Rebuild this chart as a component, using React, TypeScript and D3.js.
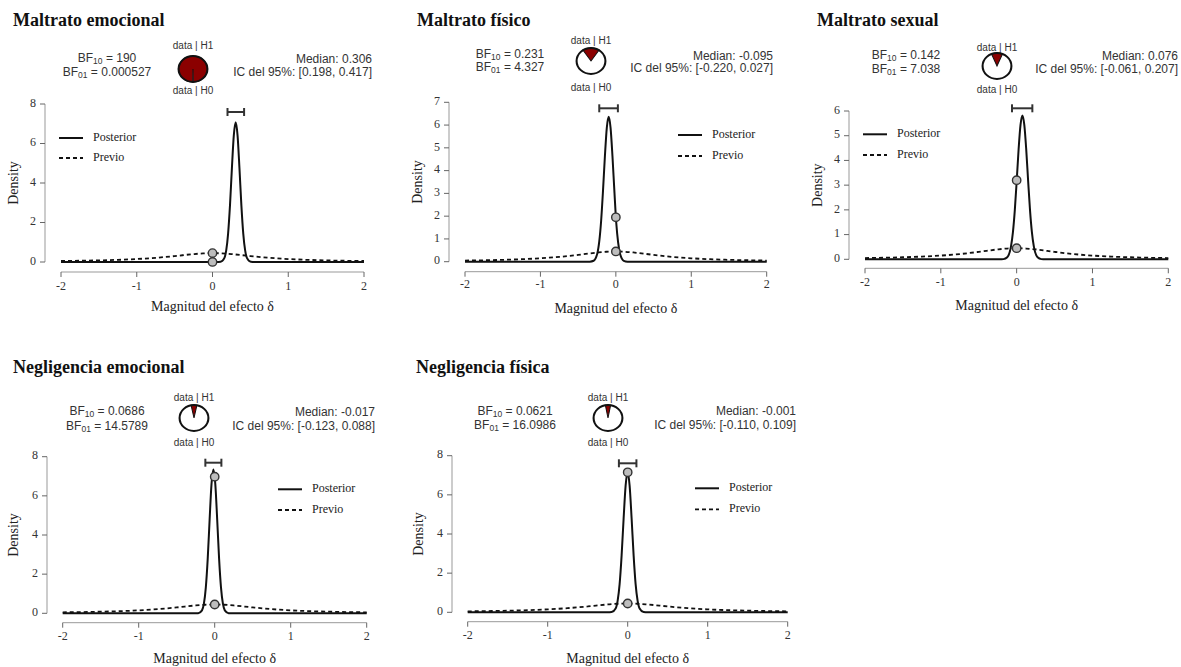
import React from "react";
import * as d3 from "d3";

// ---------- data ----------
const panelTitles = [
  "Maltrato emocional",
  "Maltrato físico",
  "Maltrato sexual",
  "Negligencia emocional",
  "Negligencia física",
];
const bf10Values = [190, 0.231, 0.142, 0.0686, 0.0621];
const bf10Labels = ["190", "0.231", "0.142", "0.0686", "0.0621"];
const bf01Labels = ["0.000527", "4.327", "7.038", "14.5789", "16.0986"];
const medians = [0.306, -0.095, 0.076, -0.017, -0.001];
const ciLower = [0.198, -0.22, -0.061, -0.123, -0.11];
const ciUpper = [0.417, 0.027, 0.207, 0.088, 0.109];
const yMaxima = [8, 7, 6, 8, 8];
const yTickSteps = [2, 1, 1, 2, 2];
const xTicks = [-2, -1, 0, 1, 2];

// prior density (Cauchy-shaped)
const priorX = [-2, -1.75, -1.5, -1.25, -1, -0.75, -0.5, -0.25, -0.125, 0, 0.125, 0.25, 0.5, 0.75, 1, 1.25, 1.5, 1.75, 2];
const priorY = [0.05, 0.063, 0.082, 0.109, 0.15, 0.212, 0.3, 0.4, 0.436, 0.45, 0.436, 0.4, 0.3, 0.212, 0.15, 0.109, 0.082, 0.063, 0.05];
const priorAtZero = 0.45;
const posteriorAtZero = [0.003, 1.95, 3.2, 6.98, 7.15];

// posterior densities
const post1X = [-2, 0.056, 0.106, 0.156, 0.181, 0.206, 0.231, 0.256, 0.281, 0.306, 0.331, 0.356, 0.381, 0.406, 0.431, 0.456, 0.506, 0.556, 2];
const post1Y = [0, 0, 0.012, 0.196, 0.585, 1.44, 2.88, 4.74, 6.4, 7.07, 6.4, 4.74, 2.88, 1.44, 0.585, 0.196, 0.012, 0, 0];
const post2X = [-2, -0.395, -0.345, -0.295, -0.245, -0.22, -0.195, -0.17, -0.145, -0.12, -0.095, -0.07, -0.045, -0.02, 0.005, 0.03, 0.055, 0.105, 0.155, 0.205, 2];
const post2Y = [0, 0, 0.002, 0.041, 0.374, 0.89, 1.8, 3.13, 4.64, 5.88, 6.36, 5.88, 4.64, 3.13, 1.72, 0.85, 0.36, 0.04, 0.002, 0, 0];
const post3X = [-2, -0.224, -0.174, -0.124, -0.074, -0.049, -0.024, 0.001, 0.026, 0.051, 0.076, 0.101, 0.126, 0.151, 0.176, 0.201, 0.226, 0.276, 0.326, 0.376, 2];
const post3Y = [0, 0, 0.007, 0.081, 0.53, 1.1, 2.0, 3.19, 4.46, 5.44, 5.82, 5.44, 4.46, 3.19, 2.0, 1.1, 0.53, 0.081, 0.007, 0, 0];
const post4X = [-2, -0.267, -0.217, -0.167, -0.142, -0.117, -0.092, -0.067, -0.042, -0.017, 0.008, 0.033, 0.058, 0.083, 0.108, 0.133, 0.183, 0.233, 2];
const post4Y = [0, 0, 0.007, 0.151, 0.49, 1.31, 2.78, 4.77, 6.6, 7.35, 6.6, 4.77, 2.78, 1.31, 0.49, 0.151, 0.007, 0, 0];
const post5X = [-2, -0.251, -0.201, -0.151, -0.126, -0.101, -0.076, -0.051, -0.026, -0.001, 0.024, 0.049, 0.074, 0.099, 0.124, 0.149, 0.199, 0.249, 2];
const post5Y = [0, 0, 0.012, 0.195, 0.587, 1.44, 2.91, 4.79, 6.47, 7.15, 6.47, 4.79, 2.91, 1.44, 0.587, 0.195, 0.012, 0, 0];
const posteriorXs = [post1X, post2X, post3X, post4X, post5X];
const posteriorYs = [post1Y, post2Y, post3Y, post4Y, post5Y];

// ---------- layout (pixel positions, per panel) ----------
type Layout = {
  titleX: number; titleY: number;
  x0: number; x1: number; yTop: number; yBottom: number;
  axisY: number; yAxisX: number; tickLabelY: number; axisTitleY: number; densityX: number;
  legX: number; legY: number; legY2: number;
  ciY: number;
  bfX: number; bfY1: number; bfY2: number;
  pieX: number; pieY: number; h1Y: number; h0Y: number;
  medX: number; medY1: number; medY2: number;
};
const layouts: Layout[] = [
  { titleX: 13, titleY: 26, x0: 61, x1: 364, yTop: 104, yBottom: 262, axisY: 272, yAxisX: 45, tickLabelY: 287, axisTitleY: 308, densityX: 15,
    legX: 59, legY: 138, legY2: 158, ciY: 112, bfX: 107, bfY1: 59, bfY2: 73, pieX: 193, pieY: 69, h1Y: 46, h0Y: 91, medX: 372, medY1: 60, medY2: 73 },
  { titleX: 417, titleY: 26, x0: 465, x1: 766.7, yTop: 102.3, yBottom: 261.7, axisY: 271.7, yAxisX: 449, tickLabelY: 285.7, axisTitleY: 310, densityX: 419,
    legX: 678, legY: 135, legY2: 156, ciY: 108.3, bfX: 510, bfY1: 55, bfY2: 68, pieX: 591, pieY: 61, h1Y: 41, h0Y: 88, medX: 773, medY1: 57, medY2: 69 },
  { titleX: 817, titleY: 26, x0: 865, x1: 1168.3, yTop: 111, yBottom: 259.3, axisY: 268.3, yAxisX: 849, tickLabelY: 283.3, axisTitleY: 306.7, densityX: 819,
    legX: 863, legY: 134.3, legY2: 155, ciY: 108.3, bfX: 906, bfY1: 56, bfY2: 70, pieX: 997, pieY: 66, h1Y: 48, h0Y: 90, medX: 1178, medY1: 57, medY2: 70 },
  { titleX: 13, titleY: 373, x0: 62.7, x1: 366.7, yTop: 456.7, yBottom: 613.3, axisY: 622.7, yAxisX: 47, tickLabelY: 637.7, axisTitleY: 660, densityX: 15,
    legX: 278, legY: 489.3, legY2: 510, ciY: 462.7, bfX: 107, bfY1: 412, bfY2: 427, pieX: 194, pieY: 418, h1Y: 398, h0Y: 443, medX: 375, medY1: 413, medY2: 427 },
  { titleX: 416, titleY: 373, x0: 467.7, x1: 787.7, yTop: 455.7, yBottom: 612.3, axisY: 621.7, yAxisX: 452, tickLabelY: 636, axisTitleY: 660, densityX: 420,
    legX: 695, legY: 488.3, legY2: 509.3, ciY: 463.3, bfX: 515, bfY1: 412, bfY2: 426, pieX: 608, pieY: 418, h1Y: 398, h0Y: 443, medX: 796, medY1: 412, medY2: 426 },
];

const SERIF = "'Liberation Serif', 'Times New Roman', serif";
const SANS = "'Liberation Sans', Arial, sans-serif";
const fmt3raw = d3.format(".3f");
const fmt3 = (v: number) => fmt3raw(v).replace("\u2212", "-");

function Panel({ i }: { i: number }) {
  const L = layouts[i];
  const x = d3.scaleLinear().domain([-2, 2]).range([L.x0, L.x1]);
  const y = d3.scaleLinear().domain([0, yMaxima[i]]).range([L.yBottom, L.yTop]);
  const line = d3
    .line<[number, number]>()
    .x((d) => x(d[0]))
    .y((d) => y(d[1]))
    .curve(d3.curveMonotoneX);
  const priorPath = line(priorX.map((v, k) => [v, priorY[k]] as [number, number])) || "";
  const postPath = line(posteriorXs[i].map((v, k) => [v, posteriorYs[i][k]] as [number, number])) || "";
  const yTicks = d3.range(0, yMaxima[i] + 0.001, yTickSteps[i]);
  const p = bf10Values[i] / (1 + bf10Values[i]);
  const r = 14;
  const wedge = d3.arc()({ innerRadius: 0, outerRadius: r, startAngle: -p * Math.PI, endAngle: p * Math.PI } as any) || "";
  const cx0 = x(0);
  const midY = (L.yTop + L.yBottom) / 2;

  return (
    <g>
      {/* title */}
      <text x={L.titleX} y={L.titleY} fontFamily={SERIF} fontWeight="bold" fontSize={18} fill="#111">
        {panelTitles[i]}
      </text>

      {/* header: BF values */}
      <g fontFamily={SANS} fontSize={12} fill="#333">
        <text x={L.bfX} y={L.bfY1} textAnchor="middle" dominantBaseline="middle">
          BF<tspan fontSize={8.5} dy={3}>10</tspan>
          <tspan dy={-3}>{" = " + bf10Labels[i]}</tspan>
        </text>
        <text x={L.bfX} y={L.bfY2} textAnchor="middle" dominantBaseline="middle">
          BF<tspan fontSize={8.5} dy={3}>01</tspan>
          <tspan dy={-3}>{" = " + bf01Labels[i]}</tspan>
        </text>
        <text x={L.medX} y={L.medY1} textAnchor="end" dominantBaseline="middle">
          {"Median: " + fmt3(medians[i])}
        </text>
        <text x={L.medX} y={L.medY2} textAnchor="end" dominantBaseline="middle">
          {"IC del 95%: [" + fmt3(ciLower[i]) + ", " + fmt3(ciUpper[i]) + "]"}
        </text>
        <text x={L.pieX} y={L.h1Y} textAnchor="middle" dominantBaseline="middle" fontSize={10}>
          data | H1
        </text>
        <text x={L.pieX} y={L.h0Y} textAnchor="middle" dominantBaseline="middle" fontSize={10}>
          data | H0
        </text>
      </g>

      {/* pie */}
      <g transform={`translate(${L.pieX},${L.pieY}) scale(1.03,0.93)`}>
        <circle r={r} fill="#fff" />
        <path d={wedge} fill="#8b0000" stroke="#111" strokeWidth={1} />
        <circle r={r} fill="none" stroke="#111" strokeWidth={2} />
      </g>

      {/* y axis */}
      <line x1={L.yAxisX} x2={L.yAxisX} y1={y(0)} y2={y(yMaxima[i])} stroke="#999" strokeWidth={1} />
      {yTicks.map((t) => (
        <g key={"yt" + t}>
          <line x1={L.yAxisX - 5} x2={L.yAxisX} y1={y(t)} y2={y(t)} stroke="#666" strokeWidth={1} />
          <text x={L.yAxisX - 9} y={y(t)} textAnchor="end" dominantBaseline="middle" fontFamily={SERIF} fontSize={12} fill="#333">
            {t}
          </text>
        </g>
      ))}
      <text
        transform={`translate(${L.densityX},${midY}) rotate(-90)`}
        textAnchor="middle"
        dominantBaseline="middle"
        fontFamily={SERIF}
        fontSize={14}
        fill="#222"
      >
        Density
      </text>

      {/* x axis */}
      <line x1={x(-2)} x2={x(2)} y1={L.axisY} y2={L.axisY} stroke="#999" strokeWidth={1} />
      {xTicks.map((t) => (
        <g key={"xt" + t}>
          <line x1={x(t)} x2={x(t)} y1={L.axisY} y2={L.axisY + 5} stroke="#666" strokeWidth={1} />
          <text x={x(t)} y={L.tickLabelY} textAnchor="middle" dominantBaseline="middle" fontFamily={SERIF} fontSize={12} fill="#333">
            {t}
          </text>
        </g>
      ))}
      <text x={cx0} y={L.axisTitleY} textAnchor="middle" dominantBaseline="middle" fontFamily={SERIF} fontSize={14} fill="#222">
        Magnitud del efecto δ
      </text>

      {/* curves */}
      <path d={priorPath} fill="none" stroke="#111" strokeWidth={1.8} strokeDasharray="4,3" />
      <path d={postPath} fill="none" stroke="#111" strokeWidth={2} />

      {/* credible interval */}
      <g stroke="#333" strokeWidth={2}>
        <line x1={x(ciLower[i])} x2={x(ciUpper[i])} y1={L.ciY} y2={L.ciY} />
        <line x1={x(ciLower[i])} x2={x(ciLower[i])} y1={L.ciY - 4} y2={L.ciY + 4} />
        <line x1={x(ciUpper[i])} x2={x(ciUpper[i])} y1={L.ciY - 4} y2={L.ciY + 4} />
      </g>

      {/* points at delta = 0 */}
      <circle cx={cx0} cy={y(priorAtZero)} r={4.2} fill="#bdbdbd" stroke="#333" strokeWidth={1.4} />
      <circle cx={cx0} cy={y(posteriorAtZero[i])} r={4.2} fill="#bdbdbd" stroke="#333" strokeWidth={1.4} />

      {/* legend */}
      <line x1={L.legX} x2={L.legX + 24} y1={L.legY} y2={L.legY} stroke="#111" strokeWidth={2} />
      <text x={L.legX + 34} y={L.legY} dominantBaseline="middle" fontFamily={SERIF} fontSize={12} fill="#222">
        Posterior
      </text>
      <line x1={L.legX} x2={L.legX + 24} y1={L.legY2} y2={L.legY2} stroke="#111" strokeWidth={1.8} strokeDasharray="4,3" />
      <text x={L.legX + 34} y={L.legY2} dominantBaseline="middle" fontFamily={SERIF} fontSize={12} fill="#222">
        Previo
      </text>
    </g>
  );
}

export default function App() {
  return (
    <svg
      width={1181}
      height={667}
      style={{ position: "absolute", left: 0, top: 0, background: "#fff", display: "block" }}
    >
      <rect x={0} y={0} width={1181} height={667} fill="#fff" />
      {panelTitles.map((_, i) => (
        <Panel key={i} i={i} />
      ))}
    </svg>
  );
}
